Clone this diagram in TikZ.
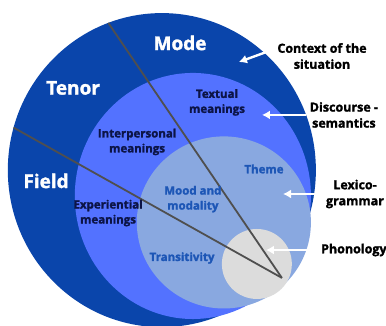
\documentclass[tikz,border=0pt]{standalone}
\usepackage{fontspec}
\setmainfont{Open Sans}[BoldFeatures={FakeBold=1.6}]
\usetikzlibrary{arrows.meta,shapes.geometric}

\definecolor{deepblue}{HTML}{0A45AB}
\definecolor{midblue}{HTML}{5372FF}
\definecolor{paleblue}{HTML}{89A8E0}
\definecolor{phongray}{HTML}{DCDCDC}
\definecolor{spokegray}{HTML}{4F4F4F}
\definecolor{navy}{HTML}{0C1446}
\definecolor{inkblue}{HTML}{1D56B6}

\begin{document}
\begin{tikzpicture}
\tikzstyle{ring}=[ellipse,inner sep=0pt,outer sep=0pt]
\tikzstyle{spoke}=[line width=1.8pt,color=spokegray]
\tikzstyle{op}=[-{Latex[length=8pt,width=9pt]},white,line width=2.4pt]
\tikzstyle{stratum}=[text=white,font=\bfseries\fontsize{19}{22}\selectfont]
\tikzstyle{meta}=[text=navy,align=center,font=\bfseries\fontsize{11.5}{15}\selectfont]
\tikzstyle{gram}=[text=inkblue,align=center,font=\bfseries\fontsize{11.5}{15}\selectfont]
\tikzstyle{side}=[text=black,align=center,font=\bfseries\fontsize{12.5}{16}\selectfont]
\useasboundingbox (0,0) rectangle (13.57,11.46);

% nested circles
\node (1) at (5.69,5.48) [ring,fill=deepblue,minimum width=10.83cm,minimum height=11.04cm]{};
\node (2) at (6.78,4.57) [ring,fill=midblue,minimum width=8.3cm,minimum height=8.65cm]{};
\node (3) at (7.87,3.64) [ring,fill=paleblue,minimum width=6.12cm,minimum height=6.05cm]{};
\node (4) at (9.03,2.18) [circle,inner sep=0pt,fill=phongray,minimum size=2.46cm]{};
\coordinate (5) at (9.91,1.69);

\draw[spoke] (1.110) -- (5);
\draw[spoke] (1.164) -- (5);

\node (6) at (6.33,9.95) [stratum]{Mode};
\node (7) at (2.57,8.37) [stratum]{Tenor};
\node (8) at (1.62,5.10) [stratum]{Field};
\node (9) at (7.63,7.86) [meta]{Textual\\meanings};
\node (10) at (4.82,6.47) [meta]{Interpersonal\\meanings};
\node (11) at (3.80,3.97) [meta]{Experiential\\meanings};
\node (12) at (9.28,5.52) [gram]{Theme};
\node (13) at (6.78,4.46) [gram]{Mood and\\modality};
\node (14) at (6.40,2.39) [gram]{Transitivity};

\node (15) at (11.32,9.49) [side]{Context of the\\situation};
\node (16) at (12.09,7.42) [side]{Discourse -\\semantics};
\node (17) at (12.48,4.64) [side]{Lexico-\\grammar};
\node (18) at (12.44,2.67) [side]{Phonology};

\coordinate (19) at (8.40,9.28);
\coordinate (20) at (9.21,7.42);
\coordinate (21) at (9.95,4.64);
\coordinate (22) at (9.35,2.67);
\draw[op] (15.172) -- (19);
\draw[op] (16) -- (20);
\draw[op] (17) -- (21);
\draw[op] (18) -- (22);
\end{tikzpicture}
\end{document}
